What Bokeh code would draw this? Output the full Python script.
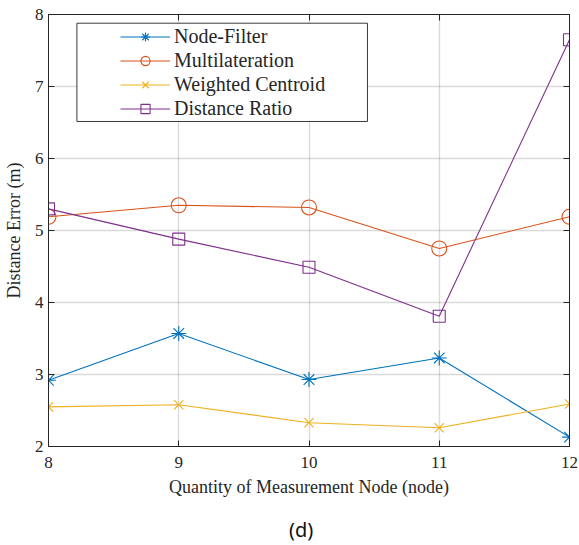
from bokeh.plotting import figure
from bokeh.models import (Legend, LegendItem, LinearAxis, FixedTicker, BoxAnnotation,
                          Range1d)
from bokeh.embed import file_html
from bokeh.resources import INLINE

# ---- data ----
nodes = [8, 9, 10, 11, 12]
node_filter = [2.92, 3.57, 2.93, 3.23, 2.13]
multilateration = [5.19, 5.35, 5.32, 4.75, 5.19]
weighted_centroid = [2.55, 2.58, 2.33, 2.26, 2.59]
distance_ratio = [5.30, 4.88, 4.49, 3.81, 7.65]
series_names = ["Node-Filter", "Multilateration", "Weighted Centroid", "Distance Ratio"]
x_ticks = [8, 9, 10, 11, 12]
y_ticks = [2, 3, 4, 5, 6, 7, 8]
caption = "(d)"

colors = ["#0072BD", "#D95319", "#EDB120", "#7E2F8E"]
markers = ["asterisk", "circle", "x", "square"]
msizes = [15, 15, 13, 12]
AX = "#262626"
SERIF = "'Liberation Serif', 'Times New Roman', serif"

p = figure(width=579, height=545, output_backend="svg", toolbar_location=None,
           x_range=Range1d(8, 12), y_range=Range1d(2, 8),
           min_border_left=45, min_border_right=10, min_border_top=14, min_border_bottom=99,
           background_fill_color="white", border_fill_color="white")
p.outline_line_color = AX
p.outline_line_width = 1

for ax in (p.xaxis[0], p.yaxis[0]):
    ax.major_tick_in = 6
    ax.major_tick_out = 0
    ax.minor_tick_line_color = None
    ax.axis_line_color = AX
    ax.major_tick_line_color = AX
    ax.major_label_text_font = SERIF
    ax.major_label_text_font_size = "17px"
    ax.major_label_text_font_style = "normal"
    ax.major_label_text_color = AX
    ax.axis_label_text_font = SERIF
    ax.axis_label_text_font_size = "18px"
    ax.axis_label_text_font_style = "normal"
    ax.axis_label_text_color = AX

p.xaxis[0].ticker = FixedTicker(ticks=x_ticks)
p.yaxis[0].ticker = FixedTicker(ticks=y_ticks)
p.xaxis[0].axis_label = "Quantity of Measurement Node (node)"
p.yaxis[0].axis_label = "Distance Error (m)"
p.xaxis[0].major_label_standoff = 10
p.xaxis[0].axis_label_standoff = 6
p.yaxis[0].major_label_standoff = 5
p.yaxis[0].axis_label_standoff = 8

# box ticks on top and right
top = LinearAxis(ticker=FixedTicker(ticks=x_ticks), major_tick_in=6, major_tick_out=0,
                 minor_tick_line_color=None, major_label_text_alpha=0,
                 major_label_text_font_size="1px",
                 major_label_standoff=0, axis_line_color=AX, major_tick_line_color=AX)
right = LinearAxis(ticker=FixedTicker(ticks=y_ticks), major_tick_in=6, major_tick_out=0,
                   minor_tick_line_color=None, major_label_text_alpha=0,
                   major_label_text_font_size="1px",
                   major_label_standoff=0, axis_line_color=AX, major_tick_line_color=AX)
p.add_layout(top, "above")
p.add_layout(right, "right")

# caption "(d)" under the axis title, as the label of a bare extra axis
cap_axis = LinearAxis(ticker=FixedTicker(ticks=[]), axis_line_color=None,
                      major_tick_line_color=None, minor_tick_line_color=None,
                      major_tick_in=0, major_tick_out=0, major_label_standoff=0,
                      axis_label=caption + "\u00a0\u00a0\u00a0", axis_label_standoff=16,
                      axis_label_text_font="Noto Sans", axis_label_text_font_size="20px",
                      axis_label_text_font_style="normal", axis_label_text_color="#111111")
p.add_layout(cap_axis, "below")

p.xgrid.ticker = FixedTicker(ticks=x_ticks)
p.ygrid.ticker = FixedTicker(ticks=y_ticks)
for g in (p.xgrid[0], p.ygrid[0]):
    g.grid_line_color = AX
    g.grid_line_alpha = 0.17
    g.grid_line_width = 1.3

items = []
for name, ys, c, m, s in zip(series_names,
                             [node_filter, multilateration, weighted_centroid, distance_ratio],
                             colors, markers, msizes):
    ln = p.line(nodes, ys, line_color=c, line_width=1.1)
    sc = p.scatter(nodes, ys, marker=m, size=s, line_color=c, fill_color=None, line_width=1.1)
    items.append(LegendItem(label=name, renderers=[ln, sc]))

# legend frame (drawn behind the legend entries)
box = BoxAnnotation(left=8.218, right=10.449, bottom=6.514, top=7.879,
                    fill_color="white", fill_alpha=1.0, line_color=AX, line_width=1,
                    line_alpha=0.9)
p.add_layout(box)

legend = Legend(items=items, location=(70, 324), padding=2, spacing=1,
                label_height=23, glyph_height=23, glyph_width=50, label_standoff=4,
                label_text_font=SERIF, label_text_font_size="20px",
                label_text_font_style="normal", label_text_color=AX,
                background_fill_alpha=0, border_line_alpha=0, margin=0)
p.add_layout(legend)

open("out.html", "w").write(file_html(p, INLINE))
